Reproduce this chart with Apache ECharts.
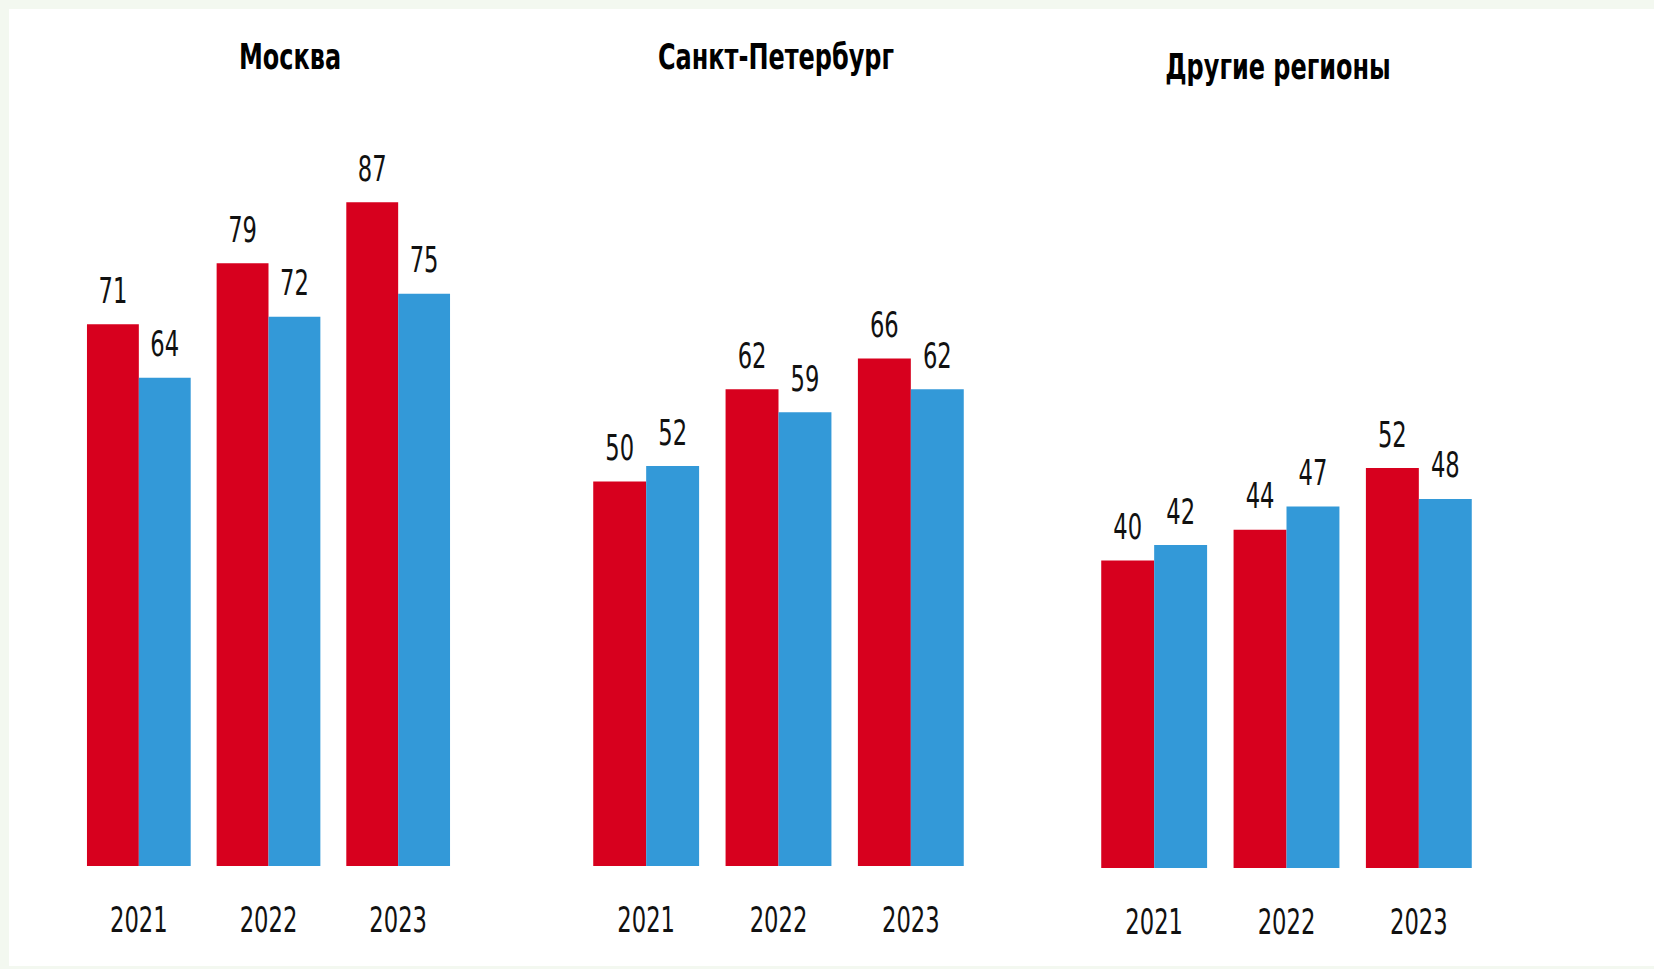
<!DOCTYPE html>
<html>
<head>
<meta charset="utf-8">
<title>Регионы</title>
<script src="https://cdn.jsdelivr.net/npm/echarts@6/dist/echarts.min.js"></script>
<style>
    html, body { margin: 0; padding: 0; background: #f3f8f0; }
    #chart { width: 1654px; height: 969px; }
</style>
</head>
<body>
<div id="chart"></div>
<script>
// 数据
let years      = ['2021', '2022', '2023'];
let titles     = ['Москва', 'Санкт-Петербург', 'Другие регионы'];
let moscowRed  = [71, 79, 87];
let moscowBlue = [64, 72, 75];
let spbRed     = [50, 62, 66];
let spbBlue    = [52, 59, 62];
let otherRed   = [40, 44, 52];
let otherBlue  = [42, 47, 48];

let RED  = '#d7001e';
let BLUE = '#3399d8';
let FONT = "'DejaVu Sans Condensed', 'DejaVu Sans', sans-serif";

let chart = echarts.init(document.getElementById('chart'), null, { renderer: 'svg' });

// 三个面板的位置
let grids = [
    { left: 74,  top: 103, width: 389, height: 763 },
    { left: 580, top: 97,  width: 397, height: 769 },
    { left: 1088, top: 99, width: 397, height: 769 }
];
let titlePos = [[290, 56], [776, 56], [1278, 66]];
let pairs = [[moscowRed, moscowBlue], [spbRed, spbBlue], [otherRed, otherBlue]];

function barSeries(data, color, idx) {
    return {
        type: 'bar',
        xAxisIndex: idx,
        yAxisIndex: idx,
        data: data,
        barGap: '0%',
        barCategoryGap: '20%',
        itemStyle: { color: color },
        label: {
            show: true,
            position: 'top',
            distance: 16,
            color: '#111',
            fontSize: 36,
            fontFamily: FONT
        }
    };
}

let series = [];
pairs.forEach((p, i) => {
    series.push(barSeries(p[0], RED, i));
    series.push(barSeries(p[1], BLUE, i));
});

let option = {
    animation: false,
    backgroundColor: '#f3f8f0',
    graphic: [
        // 白色底板
        { type: 'rect', z: -10, silent: true, shape: { x: 9, y: 9, width: 1645, height: 957 }, style: { fill: '#ffffff' } }
    ].concat(titles.map((t, i) => ({
        type: 'text',
        x: titlePos[i][0],
        y: titlePos[i][1],
        style: {
            text: t,
            textAlign: 'center',
            textVerticalAlign: 'middle',
            fill: '#000',
            font: 'bold 36px ' + FONT
        }
    }))),
    grid: grids,
    xAxis: grids.map((g, i) => ({
        type: 'category',
        gridIndex: i,
        data: years,
        axisLine: { show: false },
        axisTick: { show: false },
        axisLabel: { margin: 35, color: '#111', fontSize: 36, fontFamily: FONT }
    })),
    yAxis: grids.map((g, i) => ({
        type: 'value',
        gridIndex: i,
        min: 0,
        max: 100,
        show: false,
        splitLine: { show: false }
    })),
    series: series
};

chart.setOption(option);

// 字体太宽，压缩成窄体
function narrowText() {
    document.querySelectorAll('#chart svg text').forEach(el => {
        if (el.getAttribute('textLength')) return;
        let w = el.getComputedTextLength();
        if (!w) return;
        let bold = parseInt(getComputedStyle(el).fontWeight) >= 600;
        el.setAttribute('textLength', (w * (bold ? 0.74 : 0.70)).toFixed(1));
        el.setAttribute('lengthAdjust', 'spacingAndGlyphs');
    });
}
narrowText();
chart.on('finished', narrowText);
setTimeout(narrowText, 0);
</script>
</body>
</html>
